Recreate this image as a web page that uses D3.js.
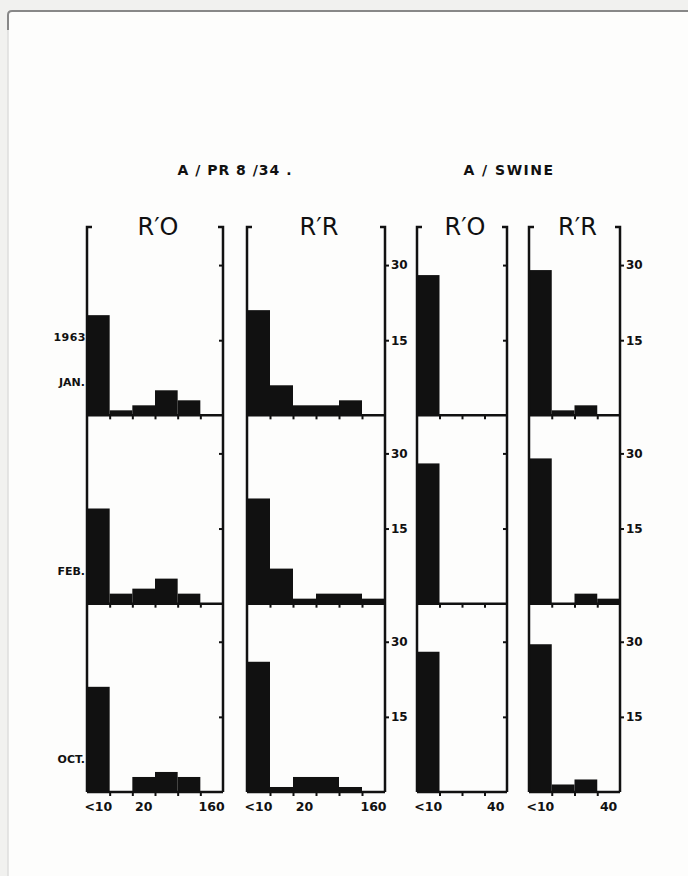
<!DOCTYPE html>
<html>
<head>
<meta charset="utf-8">
<script src="https://cdn.jsdelivr.net/npm/d3@7"></script>
<style>
  body { margin: 0; background: #f2f2f0; }
  svg { display: block; }
</style>
</head>
<body>
<script>
// rows (months) and titration bins
var months = ["JAN.", "FEB.", "OCT."];
var pr8Bins = ["<10", "10", "20", "40", "80", "160"];
var swineBins = ["<10", "10", "20", "40"];
var pr8Labels = ["<10", "20", "160"];
var swineLabels = ["<10", "40"];
var yTicks = [15, 30];

// counts per bin, one row per month
var pr8RO = [[20, 1, 2, 5, 3, 0], [19, 2, 3, 5, 2, 0], [21, 0, 3, 4, 3, 0]];
var pr8RR = [[21, 6, 2, 2, 3, 0], [21, 7, 1, 2, 2, 1], [26, 1, 3, 3, 1, 0]];
var swineRO = [[28, 0, 0, 0], [28, 0, 0, 0], [28, 0, 0, 0]];
var swineRR = [[29, 1, 2, 0], [29, 0, 2, 1], [29.5, 1.5, 2.5, 0]];

var svgWidth = 688, svgHeight = 876;
var panelTop = 227, panelBottom = 792;
var yMax = 37.6;
var ink = "#111";
var font = "DejaVu Sans, sans-serif";

var columns = [
    {data: pr8RO, bins: pr8Bins, labels: pr8Labels, title: "R\u2032O", x0: 87, x1: 223, yLabels: false},
    {data: pr8RR, bins: pr8Bins, labels: pr8Labels, title: "R\u2032R", x0: 247, x1: 385, yLabels: true},
    {data: swineRO, bins: swineBins, labels: swineLabels, title: "R\u2032O", x0: 417, x1: 507, yLabels: false},
    {data: swineRR, bins: swineBins, labels: swineLabels, title: "R\u2032R", x0: 529, x1: 620, yLabels: true}
];

var svg = d3.select("body")
            .append("svg")
            .attr("width", svgWidth)
            .attr("height", svgHeight);

// scanned page background
svg.append("rect").attr("width", svgWidth).attr("height", svgHeight).attr("fill", "#f1f1ef");
svg.append("rect").attr("x", 8).attr("y", 11).attr("width", svgWidth - 8).attr("height", svgHeight - 11)
   .attr("fill", "#fdfdfc");
svg.append("path").attr("d", "M8,30 L8,15 Q8,11 12,11 L688,11")
   .attr("fill", "none").attr("stroke", "#888").attr("stroke-width", 2);
svg.append("line").attr("x1", 8).attr("x2", 8).attr("y1", 30).attr("y2", svgHeight)
   .attr("stroke", "#dcdcdc").attr("stroke-width", 1.5);

var rowScale = d3.scaleBand().domain(months).range([panelTop, panelBottom]);

// group titles
svg.append("text")
   .attr("x", 235).attr("y", 175)
   .attr("text-anchor", "middle")
   .attr("font-family", font).attr("font-weight", "bold").attr("font-size", 14)
   .attr("letter-spacing", 1).attr("fill", ink)
   .text("A / PR 8 /34 .");
svg.append("text")
   .attr("x", 509).attr("y", 175)
   .attr("text-anchor", "middle")
   .attr("font-family", font).attr("font-weight", "bold").attr("font-size", 14)
   .attr("letter-spacing", 1.5).attr("fill", ink)
   .text("A / SWINE");

columns.forEach(function(col) {
    var g = svg.append("g");
    var x = d3.scaleBand().domain(col.bins).range([col.x0, col.x1]);
    var xEdge = d3.scaleLinear().domain([0, col.bins.length]).range([col.x0, col.x1]);

    // panel title
    g.append("text")
     .attr("x", (col.x0 + col.x1) / 2 + 3).attr("y", 235)
     .attr("text-anchor", "middle")
     .attr("font-family", font).attr("font-size", 24).attr("fill", ink)
     .text(col.title);

    months.forEach(function(m, i) {
        var top = rowScale(m);
        var bottom = top + rowScale.bandwidth();
        var y = d3.scaleLinear().domain([0, yMax]).range([bottom, top]);
        var rows = col.data[i].map(function(v, j) { return {bin: col.bins[j], value: v}; });

        // bars
        g.selectAll(".bar" + i)
         .data(rows)
         .enter()
         .append("rect")
         .attr("class", "bar" + i)
         .attr("x", d => x(d.bin))
         .attr("width", x.bandwidth())
         .attr("y", d => y(d.value))
         .attr("height", d => bottom - y(d.value))
         .attr("fill", ink);

        // bin boundary ticks on the baseline
        var tickAxis = g.append("g")
                        .attr("transform", `translate(0, ${bottom})`)
                        .call(d3.axisBottom(xEdge).tickValues(d3.range(1, col.bins.length)).tickSize(4).tickFormat(""));
        tickAxis.select(".domain").remove();
        tickAxis.selectAll("line").attr("stroke", ink).attr("stroke-width", 2);

        // baseline
        g.append("line")
         .attr("x1", col.x0).attr("x2", col.x1)
         .attr("y1", bottom).attr("y2", bottom)
         .attr("stroke", ink).attr("stroke-width", 2.5);

        // right axis ticks at 15 and 30
        var yAxis = col.yLabels
            ? d3.axisRight(y).tickValues(yTicks).tickSize(4).tickPadding(2)
            : d3.axisLeft(y).tickValues(yTicks).tickSize(4).tickFormat("");
        var yG = g.append("g")
                  .attr("transform", `translate(${col.x1}, 0)`)
                  .call(yAxis);
        yG.select(".domain").remove();
        yG.selectAll("line").attr("stroke", ink).attr("stroke-width", 2);
        yG.selectAll("text")
          .attr("font-family", font).attr("font-weight", "bold").attr("font-size", 12)
          .attr("fill", ink);

        // bin labels under last row
        if (i === months.length - 1) {
            var xG = g.append("g")
                      .attr("transform", `translate(0, ${bottom})`)
                      .call(d3.axisBottom(x).tickValues(col.labels).tickSize(0).tickPadding(10));
            xG.select(".domain").remove();
            xG.selectAll("text")
              .attr("font-family", font).attr("font-weight", "bold").attr("font-size", 12.5)
              .attr("fill", ink);
        }

        // month labels left of first panel
        if (col === columns[0]) {
            svg.append("text")
               .attr("x", col.x0 - 2).attr("y", bottom - 29)
               .attr("text-anchor", "end")
               .attr("font-family", font).attr("font-weight", "bold").attr("font-size", 11)
               .attr("fill", ink)
               .text(m);
            if (i === 0) {
                svg.append("text")
                   .attr("x", col.x0 - 1).attr("y", y(15) + 1)
                   .attr("text-anchor", "end")
                   .attr("font-family", font).attr("font-weight", "bold").attr("font-size", 11)
                   .attr("letter-spacing", 0.5)
                   .attr("fill", ink)
                   .text("1963");
            }
        }
    });

    // vertical frame lines with bracket stubs on top
    g.append("path")
     .attr("d", `M${col.x0 + 5},${panelTop} L${col.x0},${panelTop} L${col.x0},${panelBottom}`)
     .attr("fill", "none").attr("stroke", ink).attr("stroke-width", 2.5);
    g.append("path")
     .attr("d", `M${col.x1 - 5},${panelTop} L${col.x1},${panelTop} L${col.x1},${panelBottom}`)
     .attr("fill", "none").attr("stroke", ink).attr("stroke-width", 2.5);
});
</script>
</body>
</html>
